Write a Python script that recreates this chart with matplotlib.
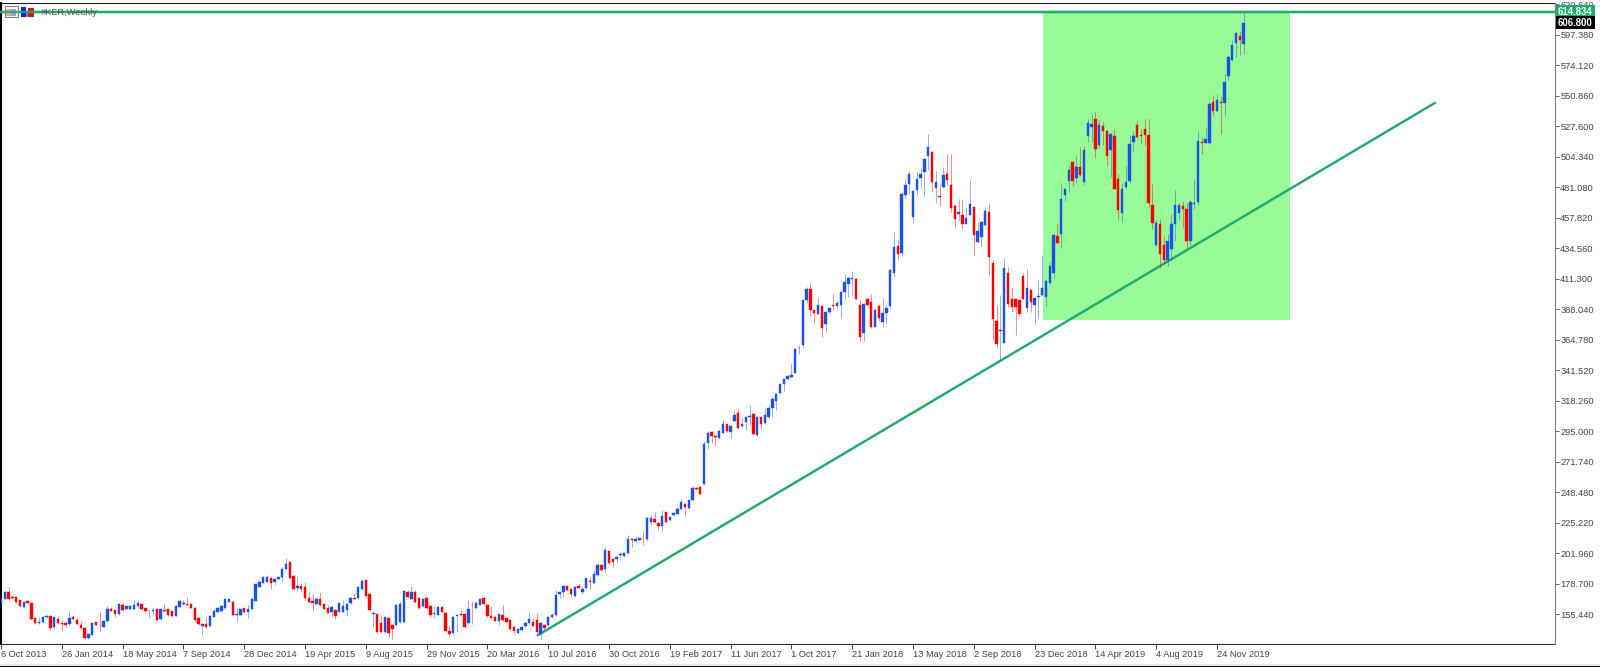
import matplotlib
matplotlib.use("Agg")
import matplotlib.pyplot as plt
import numpy as np
from matplotlib.collections import LineCollection
from matplotlib.patches import Rectangle

opens = [
162.8,166.9,172.4,168.6,168.1,165.8,160.8,165.3,163.5,152.6,
148.6,149.3,153.1,153.6,145.2,151.6,148.8,148.3,147.8,152.9,
150.9,146.8,145,137.1,139.7,149.1,147,145.8,149.8,159.5,
158.2,155.4,162,159.2,159.2,159,161.3,163.3,159.7,157.4,
157.7,159,151.6,158.5,159,157.4,154.1,160.5,164,162.5,
162.8,160.2,152.1,146.3,148,146.3,153.4,157.2,157.7,160,
164.8,164.8,154.9,154.9,159.7,156.9,159.2,165.6,176.3,179.3,
180,183.1,179.6,181.9,183.4,189.7,195.3,184.4,175.2,176.8,
176,167.6,165.3,163,166.9,163.3,159.7,156.7,158.5,157.2,
157.2,158.5,163.5,167.9,167.4,174.5,181.1,170.7,155.7,155.2,
148.3,141.4,152.1,147,147,149.3,149.3,172.2,167.1,171.9,
167.4,161.5,167.4,161.8,155.7,154.9,160.8,156.2,142.7,140.7,
154.1,155.2,155.4,148.3,162.5,160,162.5,167.4,162.5,154.1,
153.1,150.3,154.7,152.1,150.9,145.5,141.2,143.2,146.3,148.6,
149.6,150.9,140.2,147,147,152.9,154.7,170.4,172.5,176.8,
174.5,169.2,176.8,172.5,175,180.4,178.9,185.2,192.8,189.8,
203.7,197.4,197.1,200.4,199.7,201.7,212.9,210.9,211.9,212.9,
212.4,225.4,228.2,225.1,222.8,233,226.9,230.7,232,235.5,
239.3,236.3,242.4,251.8,252.6,254.3,286.1,294.5,291.2,289.4,
293.7,300.1,294.5,302.9,309,299.1,302.1,305.9,308,292,
305.4,300.9,305.4,312.3,318.2,323.8,330.9,334.5,336.5,339.5,
358.1,360.6,394.9,403.6,387.3,384.5,390.4,377.1,386,391.4,
390.6,391.1,401.3,407.6,411,411.2,391.1,370,395.9,393.4,
374.6,390.6,378.4,385.3,390.6,415.3,436.4,431,475,483.4,
458.5,478.8,488.2,492.8,505,508.3,480.3,474.2,481.4,491,
482.6,466.6,460.8,460.3,453.4,460.3,465.9,439.4,443.2,452.1,
462.5,423.4,378.9,371.3,362.4,415.3,395.5,395.5,395,413.3,
389.1,402.6,391.1,397,398.8,397.5,407.7,415.3,443.8,445.3,
475,485.7,500.5,488.3,496.7,485.2,520,527.2,533,513.2,
527.7,523.9,509.4,520,487.3,461.6,481.4,485.7,515.7,528.4,
520.8,525.4,520.7,467.4,437.4,452.9,436.9,425.9,434.3,452.9,
461.5,466.6,464.8,440.2,468.1,469.9,515.9,514.9,514.9,545.9,
539,545.9,545.4,565.7,578,591.2,596.4,590.4]

closes = [
166.9,172.2,166.9,167.4,164.3,161.5,164.8,163.5,151.9,148.3,
149.6,153.1,153.9,145,152.9,148.6,148,147.3,152.6,151.4,
147.8,144.5,136.9,140.2,148.3,147.3,146.8,149.8,159.2,158,
155.4,163,158.5,161.5,161.5,162,163.5,159,157.4,158,
158.2,151.1,159.5,157.7,154.7,153.6,161.5,165.3,162.8,163.3,
160.2,150.9,147.8,147.8,145.2,153.9,157.4,160.2,161.3,166.6,
166.6,154.9,155.6,159.5,156.9,159,166.6,178,179.8,183.4,
183.4,178.8,181.9,183.4,189.7,193.5,182.6,174.2,176.8,174.7,
167.4,164.6,164,166.9,162.3,159.5,156.4,160.5,154.1,163.5,
161.5,163,167.4,167.1,176.3,180.6,169.1,158.5,156.2,141.4,
141.4,152.9,140.7,144,162.3,162.8,173.2,168.1,172.4,164.6,
159.7,167.1,159.7,154.4,156.2,161,157.2,142.7,140.2,153.4,
154.9,154.7,145.8,159.2,162,163.5,166.6,163,153.9,152.6,
150.3,155.2,150.9,149.6,144,142.5,144,145.2,148.3,151.6,
146.5,141.4,148.3,145,152.9,154.7,170,172,176.8,173.8,
170.4,175.8,175.5,174.5,182.6,179.9,186,192.8,189,204.2,
194.1,194.9,199.2,201,202,212.9,211.9,212.4,213.7,212.4,
228.9,228.9,225.4,222.8,230.2,225.4,229.7,232.2,235.5,240.6,
237.3,242.4,251.8,250.5,246.7,284.8,293.7,291.2,290.2,295.3,
300.1,295,299.1,307.2,297.5,300.1,305.9,306.4,292.7,305.4,
300.1,307.2,313,319.2,323.3,330.6,335,337,337.8,357.6,
358.6,394.9,403.8,387.3,385.3,391.1,373.8,386,388.6,390.6,
392.9,401.5,408.7,412,412,396.2,366.5,391.9,391.1,374.1,
387.8,381.2,385,388.6,417.8,435.6,430,476.3,482.6,491.5,
478,487.7,491.5,502.5,511.9,485.4,484.9,473.7,490.8,487,
465.6,457.2,462.5,452.9,457.5,468.1,444.8,447.8,454.4,463.3,
428,380.9,361.4,371.8,419.6,391.7,389.4,389.9,384,396.2,
403.9,393.2,396.7,398,404.6,409.7,421.1,444.5,438.7,472.5,
479.4,494.6,486,496.7,490.3,509.4,530.2,529.7,510.6,528.4,
524.1,505,521.6,480.1,463.6,479.6,485.2,513.9,520,519.5,
520.3,520.8,469.1,453.9,453.9,430.5,425.4,439.9,453.4,467.4,
467.4,464.3,440.2,470.2,469.2,516.2,514.9,518.2,544.4,539,
547.4,545.4,561.2,580.5,589.4,599,593.2,606.8]

highs = [
167.5,172.7,176,169.6,169,166.5,165.5,166,164,153.4,
152.9,153.6,155,154.4,153.4,154,150.8,149.6,158,154.6,
153.4,150.1,145.5,140.7,148.8,149.6,157,150.3,161.3,160.5,
158.7,163.5,163.5,162,162,166.1,165.8,164,160.3,158.5,
161,159.5,160,163,159.5,158,162,166.6,165.8,168.1,
163.5,161,153,148.3,153.4,154.4,159,160.7,161.8,167.1,
167.6,165.3,159.7,160,160.2,162.3,168.6,178.6,181.3,184.4,
185,184,182.4,184,191.5,198.4,196,184.9,184.4,178.8,
179.6,172,170.7,168.6,172,163.8,162.3,161.5,159,164.8,
166.1,163.5,168.1,171.2,176.8,182.1,181.6,171.2,156.7,155.7,
155,153.4,152.6,147.5,162.8,165,173.7,173.7,176.8,173.7,
168,167.6,168.6,162.3,161.5,161.5,161.3,156.7,146.5,154,
155.4,158.5,156.4,166.1,165.5,165,167.1,168,163,161.5,
155,155.7,162.3,153.4,151.4,146,144.5,146,149.3,156.9,
152.1,155.9,149,148,154,156,173.8,172.5,177.3,177.6,
175,176.5,178.8,176.8,183.1,183.9,189,194,193.5,206.3,
204.2,198,199.7,203,202.5,215.4,213.4,214.9,214.2,218.8,
229.4,231,233.5,225.6,234.8,233.5,230.2,232.7,236.8,243.2,
239.8,243,253,252.3,253.1,287.4,295,295,291.7,295.8,
303.4,300.6,299.6,311,313,304.7,306.4,314.8,308.5,305.9,
306,312.3,314.8,321.2,323.8,331,335.5,337.5,346.1,358.6,
361.1,395.4,404.8,408.1,387.8,396.7,390.9,386.5,389.1,399.5,
394.9,402,414.8,412.5,417,411.7,394.9,392.4,396.4,399.5,
388.3,391.1,396.7,391.6,419.8,446.8,441.2,477,487.7,493.3,
479.3,492.8,495.8,503.5,521.5,508.8,493.6,483.4,496.6,506.3,
506.8,468.6,472.5,472.5,466.1,487,466.4,454.7,455,466.1,
468.6,425.4,390.3,398.8,427.2,420.4,405.1,396,395.5,415.8,
419.1,403,397.2,410.2,429.3,410.5,423.7,445.8,453.9,483.9,
480,498,501,504.8,511.9,512.4,533.5,537.3,538.6,532.8,
531,524.6,522.8,524.6,491,484,497.4,520.8,524,531.5,
525.9,533.5,533.5,483.4,456,457.2,443.7,445.2,460.5,479.3,
469.4,470.4,469.4,471.2,487.7,523.8,519.4,527.1,546.5,551.8,
552.5,550.5,567.3,581.8,593.2,599.5,600.3,614.8]

lows = [
162,166.5,166,166.6,163.5,161,160.3,163,151,147.5,
148,148.6,152.5,143,144.2,148,143.5,145.2,147.3,151,
147.3,144,136.5,136.6,139.2,146.8,142.7,145.3,149.3,157.5,
153.4,154.9,158,158.7,158.7,158.5,160.3,158.5,157,152.6,
155.2,150.4,151,157,154,153,153.6,160,162.3,162,
159.7,149.6,147.3,139.4,144.7,145.8,152.9,156.7,157.2,159.5,
164.3,154.4,150.4,154.4,156.4,152.1,158.7,165,175.8,178.8,
179.5,174.7,177.3,181.4,180.6,189,182,173.7,173.2,172.4,
166.1,164,158,162.5,161.8,159,156,153.1,151.9,156.7,
156.7,154.1,163,166.6,166.9,174,167.4,158,145.8,141,
141,141,138.1,136.3,146.5,148.8,148.8,167.6,166.6,164,
159.2,161,159,153.4,152.6,154.4,156.7,142.2,138.6,139.5,
141.9,153.6,145,147.8,148,159.5,162,162.5,153.4,152,
150,146.8,150.4,149,143.5,140.2,140.7,142.7,145.8,148,
146,141,136.1,143,146,152.4,154.2,167.4,168.7,173.3,
168.7,168.2,175,170.7,174.5,174.3,178.4,184.7,188,187,
193.6,191,194.1,196.6,199.2,201.2,206.8,210.4,211.4,208,
211.9,223.3,224.9,219.5,219,224.9,226.4,230.2,231.5,235,
230.4,235.8,241.9,250,246.2,253.6,281,286,283.6,288.9,
293.2,294.5,289.4,302.4,297,297.5,295.8,299.6,292.2,291.5,
296.5,300.4,304.9,306,311,323.3,325.8,334,335.2,339,
353.5,358.6,392.9,383,377.6,384,367,370.3,385.5,387.8,
388.6,381,396.2,397,398.7,395.7,363.4,363.4,390.6,373.6,
374.1,379.2,374.6,376.6,388.6,412.7,426.7,428.7,473.2,476.3,
454.7,475.3,481.4,474.2,494,477.5,469.4,466.6,480.9,482.6,
462.3,450.3,455.4,449,452.9,459.8,429.2,438.9,435.6,451.6,
414,364.4,358.6,350.4,361.9,390,386,368.3,383,395.7,
386,386,376.7,381,398.3,390.4,407.2,412.2,438.2,435.1,
470.7,477.6,482,484,490,483.2,515.7,515.7,503.8,511.1,
513.2,497.2,489,479.6,456,454.7,479.6,484,508.1,519,
514,512.4,465.3,449,436,419.6,422.9,420.8,426.7,440.2,
455.9,450.8,435.1,436.9,464.3,467.4,506.3,514.4,514.4,535.2,
538.5,521.5,535.2,562.7,577.4,580.5,581.8,583]

date_labels = ["6 Oct 2013","26 Jan 2014","18 May 2014","7 Sep 2014","28 Dec 2014",
               "19 Apr 2015","9 Aug 2015","29 Nov 2015","20 Mar 2016","10 Jul 2016",
               "30 Oct 2016","19 Feb 2017","11 Jun 2017","1 Oct 2017","21 Jan 2018",
               "13 May 2018","2 Sep 2018","23 Dec 2018","14 Apr 2019","4 Aug 2019","24 Nov 2019"]
bars_per_label = 16
price_ticks = [620.64,597.38,574.12,550.86,527.60,504.34,481.08,457.82,434.56,411.30,388.04,
               364.78,341.52,318.26,295.00,271.74,248.48,225.22,201.96,178.70,155.44]
level_price = 614.834
last_price = 606.800
trend_bars = [141.0, 377.6]
trend_prices = [138.8, 545.9]
zone_bars = [274.2, 339.2]
zone_prices = [379.7, 614.834]
symbol_title = "#KER,Weekly"

BLUE = "#1c52e4"
RED = "#ff0000"
GREEN = "#22ab68"
W, H = 1600, 667

plt.rcParams["font.family"] = ["Liberation Sans", "DejaVu Sans"]
fig = plt.figure(figsize=(16, 6.67), dpi=100, facecolor="white")

left, right, top, bottom = 1.0, 1554.5, 2.5, 644.3
ax = fig.add_axes([left / W, 1 - bottom / H, (right - left) / W, (bottom - top) / H])
px_per_bar = 3.80
ax.set_xlim(0, (right - left) / px_per_bar)
px_per_price = 30.49 / 23.26
y_high = 620.64 + (4.4 - top) / px_per_price
y_low = 155.44 - (bottom - 614.0) / px_per_price
ax.set_ylim(y_low, y_high)
ax.set_facecolor("white")
ax.set_zorder(1)

o, h, l, c = map(np.array, (opens, highs, lows, closes))
idx = np.arange(len(o))
up = c >= o
colors = np.where(up, BLUE, RED)

ax.add_patch(Rectangle((zone_bars[0], zone_prices[0]), zone_bars[1] - zone_bars[0],
                       zone_prices[1] - zone_prices[0], fc="#98fb98", ec="none", zorder=1))
ax.plot(trend_bars, trend_prices, color=GREEN, lw=1.75, zorder=1.5, solid_capstyle="butt")

segs = [[(i, lo), (i, hi)] for i, lo, hi in zip(idx, l, h)]
ax.add_collection(LineCollection(segs, colors=list(colors), linewidths=0.65, alpha=0.5, zorder=2))
ax.bar(idx, np.abs(c - o), bottom=np.minimum(o, c), width=0.68, color=list(colors),
       edgecolor=list(colors), linewidth=0.3, zorder=3)

ax.axhline(level_price, color=GREEN, lw=1.7, zorder=4)

ax.yaxis.tick_right()
ax.set_yticks(price_ticks)
ax.set_yticklabels([f"{p:.3f}" for p in price_ticks], fontsize=6.7, color="#444444")
ax.tick_params(axis="y", length=2.6, width=0.7, color="#666666", pad=1.5)
ax.set_xticks([k * bars_per_label for k in range(len(date_labels))])
ax.set_xticklabels(date_labels, fontsize=6.7, color="#444444", ha="left")
ax.tick_params(axis="x", length=3.4, width=0.7, color="#444444", pad=0.4)

for s in ax.spines.values():
    s.set_linewidth(0.8)
ax.spines["top"].set_color("#222222")
ax.spines["bottom"].set_color("#333333")
ax.spines["right"].set_color("#808080")
ax.spines["left"].set_color("#000000")
ax.spines["left"].set_linewidth(1.5)

tr = ax.get_yaxis_transform()
ax.text(1.0022, level_price, f"{level_price:.3f}", transform=tr, ha="left", va="center",
        fontsize=6.9, fontweight="bold", color="white", zorder=10, clip_on=False,
        bbox=dict(boxstyle="square,pad=0.2", fc=GREEN, ec="none"))
ax.text(1.0022, last_price, f"{last_price:.3f}", transform=tr, ha="left", va="center",
        fontsize=6.9, fontweight="bold", color="white", zorder=10, clip_on=False,
        bbox=dict(boxstyle="square,pad=0.2", fc="black", ec="none"))

# window chrome: pixel overlay for header icons, title and outer frame
chrome = fig.add_axes([0, 0, 1, 1], facecolor="none")
chrome.set_xlim(0, W)
chrome.set_ylim(H, 0)
chrome.axis("off")
chrome.set_zorder(2)
chrome.add_patch(Rectangle((0, 664), W, 3, fc="#e8e8e8", ec="none"))
chrome.add_patch(Rectangle((0, 665.6), W, 1.4, fc="#000000", ec="none"))
chrome.add_patch(Rectangle((4.5, 6), 13, 11, fc="#f4f4fa", ec="#667", lw=0.6))
chrome.add_patch(Rectangle((6, 9), 4.5, 7, fc="#f0a090", ec="none"))
chrome.add_patch(Rectangle((11, 9), 5, 7, fc="#8aa8e8", ec="none"))
chrome.add_patch(Rectangle((20.5, 7), 5.5, 9.5, fc="#1020e0", ec="none"))
chrome.add_patch(Rectangle((28, 8), 5.5, 8.5, fc="#d01818", ec="none"))
chrome.add_patch(Rectangle((26, 12), 2, 4.5, fc="#888888", ec="none"))
chrome.text(41, 12.3, symbol_title, fontsize=6.7, color="#555555", ha="left", va="center")
chrome.plot([0, 1554], [12.4, 12.4], color=GREEN, lw=1.7, alpha=0.85)

fig.savefig("out.png", dpi=100, facecolor="white")
